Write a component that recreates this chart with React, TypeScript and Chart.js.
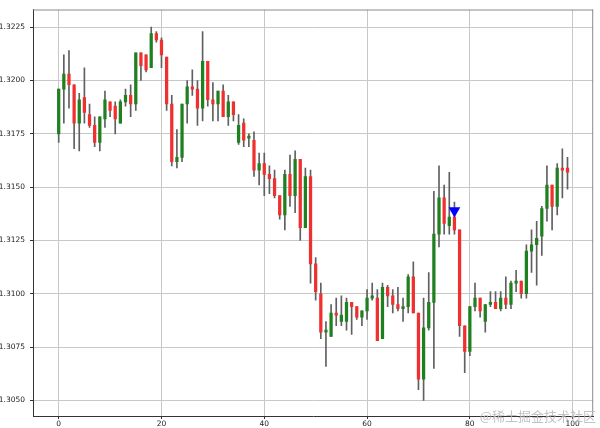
import React, { useEffect, useRef } from "react";
import { Chart, registerables } from "chart.js";

Chart.register(...registerables);

const OPEN = [
  1.3175, 1.3196, 1.3203, 1.3198, 1.318, 1.3192, 1.3184, 1.3179, 1.3171, 1.3182,
  1.319, 1.3188, 1.318, 1.319, 1.3193, 1.3189, 1.3213, 1.3212, 1.3206, 1.3222,
  1.3219, 1.3211, 1.3189, 1.3162, 1.3164, 1.3189, 1.3197, 1.3196, 1.3187, 1.3209,
  1.3191, 1.3189, 1.3195, 1.3183, 1.319, 1.3171, 1.318, 1.3173, 1.3172, 1.3158,
  1.3161, 1.3156, 1.3154, 1.3146, 1.3137, 1.3156, 1.3146, 1.3163, 1.3131, 1.3155,
  1.3114, 1.31, 1.3082, 1.308, 1.3091, 1.3087, 1.3087, 1.3096, 1.3094, 1.3089,
  1.3092, 1.3098, 1.3098, 1.3079, 1.3103, 1.3099, 1.3095, 1.3093, 1.3094, 1.3108,
  1.3091, 1.306, 1.3084, 1.3096, 1.3128, 1.3145, 1.3132, 1.3136, 1.313, 1.3085,
  1.3073, 1.3094, 1.3098, 1.3087, 1.3095, 1.3096, 1.3093, 1.3098, 1.3095, 1.3105,
  1.3106, 1.31, 1.312, 1.3123, 1.3127, 1.314, 1.3151, 1.3141, 1.3159, 1.3159,
];
const HIGH = [
  1.3196, 1.3212, 1.3214, 1.3198, 1.3194, 1.3206, 1.3189, 1.3183, 1.3183, 1.3195,
  1.319, 1.319, 1.3191, 1.3196, 1.3198, 1.3213, 1.3213, 1.3212, 1.3225, 1.3223,
  1.322, 1.3211, 1.3193, 1.3177, 1.3189, 1.32, 1.3205, 1.32, 1.3223, 1.3209,
  1.3199, 1.3195, 1.3198, 1.3193, 1.319, 1.3184, 1.3182, 1.3175, 1.3176, 1.3166,
  1.3166, 1.316, 1.3158, 1.3146, 1.3158, 1.3165, 1.3167, 1.3163, 1.3159, 1.3158,
  1.3117, 1.3105, 1.3087, 1.3095, 1.3098, 1.3099, 1.3098, 1.3096, 1.3094, 1.3092,
  1.3102, 1.3105, 1.3102, 1.3105, 1.3104, 1.3102, 1.3103, 1.3098, 1.3109, 1.3115,
  1.3091, 1.3098, 1.311, 1.3148, 1.316, 1.3151, 1.3157, 1.3143, 1.313, 1.3085,
  1.3094, 1.3105, 1.3098, 1.3095, 1.3101, 1.3101, 1.3101, 1.3108, 1.3106, 1.3111,
  1.3106, 1.3123, 1.313, 1.3134, 1.3141, 1.316, 1.3151, 1.3161, 1.3168, 1.3164,
];
const LOW = [
  1.3171, 1.318, 1.3187, 1.3168, 1.3167, 1.318, 1.3178, 1.3169, 1.3167, 1.3178,
  1.3183, 1.3175, 1.318, 1.3188, 1.3183, 1.3186, 1.32, 1.3204, 1.3206, 1.3218,
  1.3206, 1.3186, 1.316, 1.3159, 1.3162, 1.318, 1.3193, 1.3179, 1.3181, 1.3188,
  1.3181, 1.3181, 1.3183, 1.3179, 1.3181, 1.317, 1.3169, 1.3169, 1.3155, 1.3151,
  1.3146, 1.3147, 1.3145, 1.3135, 1.313, 1.3141, 1.3138, 1.3125, 1.3131, 1.3105,
  1.3097, 1.3079, 1.3066, 1.308, 1.3085, 1.3085, 1.3083, 1.3081, 1.3088, 1.3085,
  1.3088, 1.3097, 1.3078, 1.3079, 1.3094, 1.3091, 1.3092, 1.3087, 1.3091, 1.3091,
  1.3055, 1.305, 1.3083, 1.3065, 1.3122, 1.3128, 1.3128, 1.3128, 1.308, 1.3063,
  1.3071, 1.3092, 1.3089, 1.3082, 1.3094, 1.3093, 1.3092, 1.3093, 1.3093, 1.3101,
  1.3098, 1.3098, 1.311, 1.3104, 1.3118, 1.3134, 1.313, 1.3137, 1.3145, 1.3149,
];
const CLOSE = [
  1.3196, 1.3203, 1.3198, 1.318, 1.3191, 1.3185, 1.3179, 1.3171, 1.3183, 1.3191,
  1.3186, 1.3182, 1.319, 1.3193, 1.3189, 1.3213, 1.3207, 1.3205, 1.3222, 1.3219,
  1.3212, 1.3189, 1.3162, 1.3164, 1.3189, 1.3197, 1.3196, 1.3187, 1.3209, 1.3191,
  1.3189, 1.3195, 1.3183, 1.319, 1.3184, 1.3179, 1.3172, 1.3174, 1.3158, 1.3161,
  1.3156, 1.3154, 1.3146, 1.3137, 1.3156, 1.3146, 1.3163, 1.3131, 1.3155, 1.3114,
  1.3101, 1.3082, 1.3083, 1.3091, 1.309, 1.309, 1.3096, 1.3094, 1.3089, 1.3092,
  1.3098, 1.3099, 1.3078, 1.3103, 1.3099, 1.3095, 1.3093, 1.3094, 1.3108, 1.3091,
  1.306, 1.3084, 1.3096, 1.3128, 1.3145, 1.3133, 1.3136, 1.313, 1.3085, 1.3073,
  1.3094, 1.3098, 1.3092, 1.3095, 1.3096, 1.3093, 1.3098, 1.3095, 1.3105, 1.3106,
  1.31, 1.312, 1.3123, 1.3126, 1.314, 1.3151, 1.3141, 1.3159, 1.3158, 1.3157,
];

const SIGNAL_X = [77];
const SIGNAL_Y = [1.3139];

const X_TICKS = [0, 20, 40, 60, 80, 100];
const Y_TICKS = [1.305, 1.3075, 1.31, 1.3125, 1.315, 1.3175, 1.32, 1.3225];
const WATERMARK = "@稀土掘金技术社区";

const GREEN = "#1f801f";
const RED = "#f03030";
const WICK = "#606060";

export default function App() {
  const ref = useRef<HTMLCanvasElement | null>(null);

  useEffect(() => {
    if (!ref.current) return;
    const idx = OPEN.map((_, i) => i);
    const up = idx.map((i) => CLOSE[i] >= OPEN[i]);

    const framePlugin = {
      id: "frame",
      afterDraw(chart: any) {
        const { ctx, chartArea } = chart;
        ctx.save();
        ctx.strokeStyle = "#8a8a8a";
        ctx.lineWidth = 1;
        ctx.beginPath();
        ctx.moveTo(chartArea.left, chartArea.top + 0.5);
        ctx.lineTo(chartArea.right, chartArea.top + 0.5);
        ctx.moveTo(chartArea.right - 0.5, chartArea.top);
        ctx.lineTo(chartArea.right - 0.5, chartArea.bottom);
        ctx.stroke();
        ctx.font = '13px "Noto Sans CJK SC"';
        ctx.fillStyle = "rgba(185,185,185,0.85)";
        ctx.textAlign = "right";
        ctx.textBaseline = "alphabetic";
        ctx.fillText(WATERMARK, 596, 421);
        ctx.restore();
      },
    };

    const tickFont = { family: "DejaVu Sans", size: 7.5 };

    const chart = new Chart(ref.current, {
      type: "bar",
      data: {
        datasets: [
          {
            type: "scatter",
            data: SIGNAL_X.map((x, i) => ({ x, y: SIGNAL_Y[i] })),
            pointStyle: "triangle",
            pointRotation: 180,
            pointRadius: 6.8,
            pointBackgroundColor: "#0000ff",
            pointBorderColor: "#0000ff",
            pointBorderWidth: 0,
            order: 0,
          } as any,
          {
            type: "bar",
            data: idx.map((i) => ({ x: i, y: [OPEN[i], CLOSE[i]] })),
            backgroundColor: up.map((u) => (u ? GREEN : RED)),
            barThickness: 2.6,
            minBarLength: 1.5,
            grouped: false,
            order: 1,
          } as any,
          {
            type: "bar",
            data: idx.map((i) => ({ x: i, y: [LOW[i], HIGH[i]] })),
            backgroundColor: WICK,
            barThickness: 1,
            grouped: false,
            order: 2,
          } as any,
        ],
      },
      options: {
        animation: false,
        responsive: false,
        maintainAspectRatio: false,
        layout: { padding: { top: 1, right: 1, left: 0, bottom: 0 } },
        plugins: { legend: { display: false }, tooltip: { enabled: false } },
        scales: {
          x: {
            type: "linear",
            min: -5,
            max: 104,
            offset: false,
            afterFit: (s: any) => {
              s.height = 12;
            },
            afterBuildTicks: (s: any) => {
              s.ticks = X_TICKS.map((v) => ({ value: v }));
            },
            ticks: {
              font: tickFont,
              color: "#222",
              padding: 1,
              maxRotation: 0,
              autoSkip: false,
              callback: (v: any) => String(v),
            },
            grid: {
              offset: false,
              color: "#c8c8c8",
              lineWidth: 1,
              tickColor: "#333",
              tickLength: 3,
            },
            border: { color: "#333", width: 1 },
          },
          y: {
            type: "linear",
            min: 1.30427,
            max: 1.32333,
            afterFit: (s: any) => {
              s.width = 33;
            },
            afterBuildTicks: (s: any) => {
              s.ticks = Y_TICKS.map((v) => ({ value: v }));
            },
            ticks: {
              font: tickFont,
              color: "#222",
              padding: 5,
              autoSkip: false,
              callback: (v: any) => Number(v).toFixed(4),
            },
            grid: {
              color: "#c8c8c8",
              lineWidth: 1,
              tickColor: "#333",
              tickLength: 3,
            },
            border: { color: "#333", width: 1 },
          },
        },
      },
      plugins: [framePlugin],
    });

    return () => chart.destroy();
  }, []);

  return (
    <div style={{ position: "fixed", left: 0, top: 0, width: 600, height: 428, background: "#fff" }}>
      <canvas ref={ref} width={600} height={428} style={{ display: "block" }} />
    </div>
  );
}
